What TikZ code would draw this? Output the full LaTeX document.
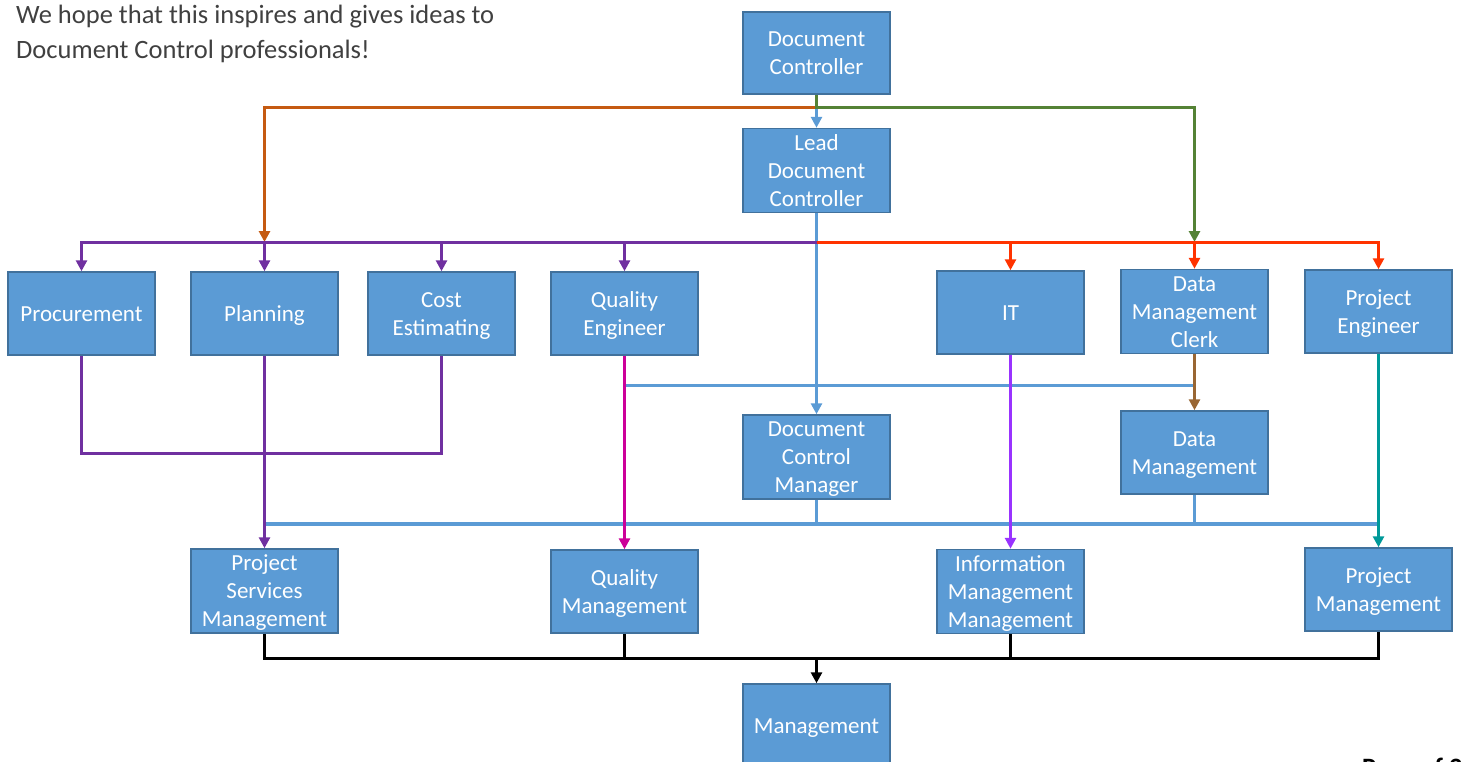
\documentclass[tikz,border=0pt]{standalone}
\usepackage{fontspec}
\setmainfont{Carlito}
\usetikzlibrary{arrows.meta}
\definecolor{boxfill}{HTML}{5B9BD5}
\definecolor{boxline}{HTML}{41719C}
\definecolor{corange}{HTML}{C55A11}
\definecolor{cgreen}{HTML}{548235}
\definecolor{cpurple}{HTML}{7030A0}
\definecolor{cred}{HTML}{FF3300}
\definecolor{cmagenta}{HTML}{CC0099}
\definecolor{cbrown}{HTML}{996633}
\definecolor{cviolet}{HTML}{9933FF}
\definecolor{cteal}{HTML}{009999}
\definecolor{ctext}{HTML}{404040}
\newcommand\bs{\rule[-6.1pt]{0pt}{28pt}}
\tikzset{
  orgbox/.style={draw=boxline, fill=boxfill, line width=1.5pt, minimum width=147pt,
    minimum height=82pt, inner sep=0pt, text=white, align=center,
    font=\fontsize{23}{28}\selectfont},
  conn/.style={line width=3pt},
  arr/.style={conn, -{Triangle[length=11pt,width=11pt]}},
  intro/.style={anchor=base west, inner sep=0pt, text=ctext, font=\fontsize{26.5}{35}\selectfont}
}
\begin{document}
\begin{tikzpicture}[x=1pt,y=-1pt]
\useasboundingbox (0,0) rectangle (1461,761);
% texts
\node[intro] (txt1) at (16,23) {We hope that this inspires and gives ideas to};
\node[intro] (txt2) at (16,58) {Document Control professionals!};
\node[anchor=base west, inner sep=0pt, font=\bfseries\fontsize{26.5}{30}\selectfont] (page) at (1362,776) {Page of 2};
% boxes
\node[orgbox] (DC) at (816.5,53) {\bs Document\\Controller\bs};
\node[orgbox, minimum height=83pt] (LDC) at (816.5,170.5) {\bs Lead\\Document\\Controller\bs};
\node[orgbox, minimum height=83pt] (Proc) at (81.5,313.5) {\bs Procurement\bs};
\node[orgbox, minimum height=83pt] (Plan) at (264.5,313.5) {\bs Planning\bs};
\node[orgbox, minimum height=83pt] (Cost) at (441.5,313.5) {\bs Cost\\Estimating\bs};
\node[orgbox, minimum height=83pt] (QE) at (624.5,313.5) {\bs Quality\\Engineer\bs};
\node[orgbox, minimum height=83pt] (IT) at (1010.5,312.5) {\bs IT\bs};
\node[orgbox, minimum height=83pt] (DMC) at (1194.5,311.5) {\bs Data\\Management\\Clerk\bs};
\node[orgbox, minimum height=83pt] (PE) at (1378.5,311.5) {\bs Project\\Engineer\bs};
\node[orgbox] (DCM) at (816.5,457) {\bs Document\\Control\\Manager\bs};
\node[orgbox, minimum height=83pt] (DM) at (1194.5,452.5) {\bs Data\\Management\bs};
\node[orgbox] (PSM) at (264.5,591) {\bs Project\\Services\\Management\bs};
\node[orgbox, minimum height=83pt] (QM) at (624.5,591.5) {\bs Quality\\Management\bs};
\node[orgbox, minimum height=83pt] (IMM) at (1010.5,591.5) {\bs Information\\Management\\Management\bs};
\node[orgbox, minimum height=83pt] (PM) at (1378.5,589.5) {\bs Project\\Management\bs};
\node[orgbox, minimum height=84pt] (Mgmt) at (816.5,726) {\bs Management\bs};
% junction coordinates
\coordinate (jtop) at (816.5,107);
\coordinate (jbus) at (816.5,242);
\coordinate (jmid) at (816.5,385);
\coordinate (jlow) at (816.5,524);
\coordinate (jproc) at (816.5,453);
\coordinate (jblack) at (816.5,658);
% blue connectors
\draw[conn, boxfill] (QE.south |- jmid) -- (DMC.south |- jmid);
\draw[conn, boxfill, line width=3.5pt] (Plan.south |- jlow) -- (PE.south |- jlow);
\draw[conn, boxfill] (DCM.south) -- (jlow);
\draw[conn, boxfill] (DM.south) -- (DM.south |- jlow);
\draw[arr, boxfill] (jtop) -- (LDC.north);
\draw[arr, boxfill] (LDC.south) -- (DCM.north);
% top orange / green
\draw[arr, corange] (jtop) -| (Plan.north |- jbus);
\draw[arr, cgreen] (DC.south) -- (jtop) -| (DMC.north |- jbus);
% purple bus
\draw[arr, cpurple] (jbus) -| (Proc.north);
\draw[arr, cpurple] (jbus) -| (Plan.north);
\draw[arr, cpurple] (jbus) -| (Cost.north);
\draw[arr, cpurple] (jbus) -| (QE.north);
% red bus
\draw[arr, cred] (jbus) -| (IT.north);
\draw[arr, cred] (jbus) -| (DMC.north);
\draw[arr, cred] (jbus) -| (PE.north);
% purple lower
\draw[conn, cpurple] (Proc.south) |- (Cost.south |- jproc) -- (Cost.south);
\draw[arr, cpurple] (Plan.south) -- (PSM.north);
% other verticals
\draw[arr, cmagenta] (QE.south) -- (QM.north);
\draw[arr, cbrown] (DMC.south) -- (DM.north);
\draw[arr, cviolet] (IT.south) -- (IMM.north);
\draw[arr, cteal] (PE.south) -- (PM.north);
% black
\draw[conn, black] (PSM.south) |- (PM.south |- jblack) -- (PM.south);
\draw[conn, black] (QM.south) -- (QM.south |- jblack);
\draw[conn, black] (IMM.south) -- (IMM.south |- jblack);
\draw[arr, black] (jblack) -- (Mgmt.north);
\end{tikzpicture}
\end{document}
